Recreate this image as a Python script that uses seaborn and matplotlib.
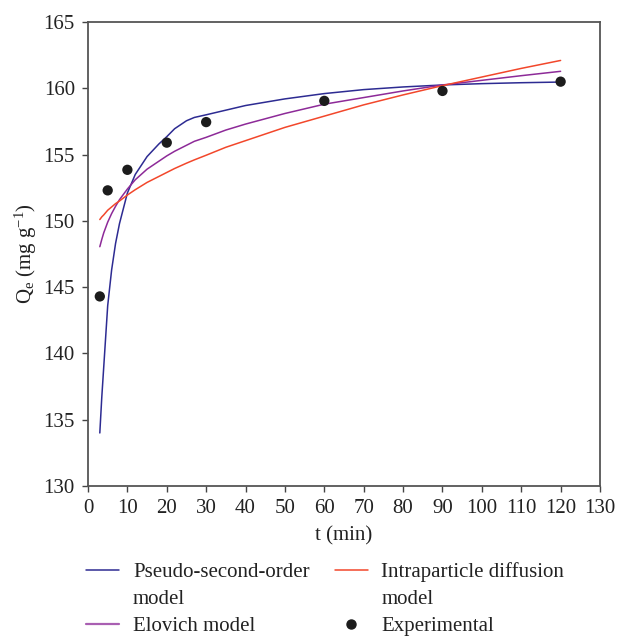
import matplotlib
matplotlib.use("Agg")
import matplotlib.pyplot as plt
from matplotlib.lines import Line2D
import seaborn as sns
import pandas as pd

# ---- data ----
t_exp = [3, 5, 10, 20, 30, 60, 90, 120]
q_exp = [144.3, 152.3, 153.85, 155.9, 157.45, 159.05, 159.8, 160.5]

t_fit = [3, 3.5, 4, 5, 6, 7, 8, 10, 12, 15, 18, 20, 22, 25, 27, 30, 35, 40, 50,
         60, 70, 80, 90, 100, 110, 120]
q_pso = [134.0, 136.7, 139.0, 143.6, 146.3, 148.3, 149.8, 152.1, 153.5, 154.85, 155.8,
         156.35, 156.95, 157.55, 157.8, 158.0, 158.35, 158.7, 159.2,
         159.6, 159.9, 160.1, 160.25, 160.35, 160.42, 160.47]
q_elo = [148.05, 148.6, 149.1, 149.9, 150.55, 151.1, 151.6, 152.4, 153.1, 153.9, 154.5,
         154.9, 155.25, 155.7, 156.0, 156.3, 156.85, 157.3, 158.1,
         158.8, 159.3, 159.8, 160.25, 160.6, 160.95, 161.28]
q_ipd = [150.1, 150.3, 150.45, 150.8, 151.05, 151.3, 151.5, 151.95, 152.35, 152.9, 153.35,
         153.65, 153.95, 154.35, 154.6, 154.95, 155.55, 156.05, 157.05,
         157.9, 158.75, 159.5, 160.2, 160.85, 161.5, 162.1]

labels = ["Pseudo-second-order", "model", "Elovich model",
          "Intraparticle diffusion", "model", "Experimental"]
x_ticks = list(range(0, 131, 10))
y_ticks = list(range(130, 166, 5))

c_pso = "#2d2b92"
c_elo = "#8d2a98"
c_ipd = "#f2472b"
c_dot = "#1c1c1c"

FS = 15

sns.set_theme(style="white")
plt.rcParams["font.family"] = ["Liberation Serif", "DejaVu Serif"]
plt.rcParams["mathtext.fontset"] = "custom"
plt.rcParams["mathtext.rm"] = "Liberation Serif"
plt.rcParams["mathtext.it"] = "Liberation Serif:italic"

fig = plt.figure(figsize=(6.17, 6.39), dpi=100)
ax = fig.add_axes([88 / 617, 1 - 486 / 639, 512 / 617, 464 / 639])

fit = pd.DataFrame({"t": t_fit, "pso": q_pso, "elo": q_elo, "ipd": q_ipd})
sns.lineplot(data=fit, x="t", y="pso", color=c_pso, lw=1.1, ax=ax)
sns.lineplot(data=fit, x="t", y="elo", color=c_elo, lw=1.1, ax=ax)
sns.lineplot(data=fit, x="t", y="ipd", color=c_ipd, lw=1.1, ax=ax)
sns.scatterplot(x=t_exp, y=q_exp, color=c_dot, s=55, edgecolor="none", ax=ax, zorder=5)

ax.set_xlim(0, 130)
ax.set_ylim(130, 165)
ax.set_xticks(x_ticks)
ax.set_yticks(y_ticks)
ax.tick_params(axis="both", which="both", direction="out", length=4.5, width=1.0,
               color="#444444", labelsize=FS, labelcolor="#222222", pad=5,
               bottom=True, left=True)
for sp in ax.spines.values():
    sp.set_color("#555555")
    sp.set_linewidth(1.3)

ax.set_xlabel("t (min)", fontsize=FS, color="#222222", labelpad=6)
ax.set_ylabel(r"Q$_\mathrm{e}$ (mg g$^{-1}$)", fontsize=FS, color="#222222", labelpad=3)

handles = [
    Line2D([], [], color=c_pso, lw=1.1),
    Line2D([], [], color="none"),
    Line2D([], [], color=c_elo, lw=1.6, alpha=0.75),
    Line2D([], [], color=c_ipd, lw=1.1),
    Line2D([], [], color="none"),
    Line2D([], [], color=c_dot, marker="o", ls="none", ms=6.5),
]
fig.legend(handles, labels, ncol=2, loc="upper left",
           bbox_to_anchor=(86 / 617, 1 - 562 / 639), frameon=False,
           fontsize=FS, borderpad=0, borderaxespad=0, handlelength=1.6,
           handletextpad=0.65, columnspacing=1.2, labelspacing=0.37,
           labelcolor="#222222")

fig.savefig("out.png", dpi=100)
